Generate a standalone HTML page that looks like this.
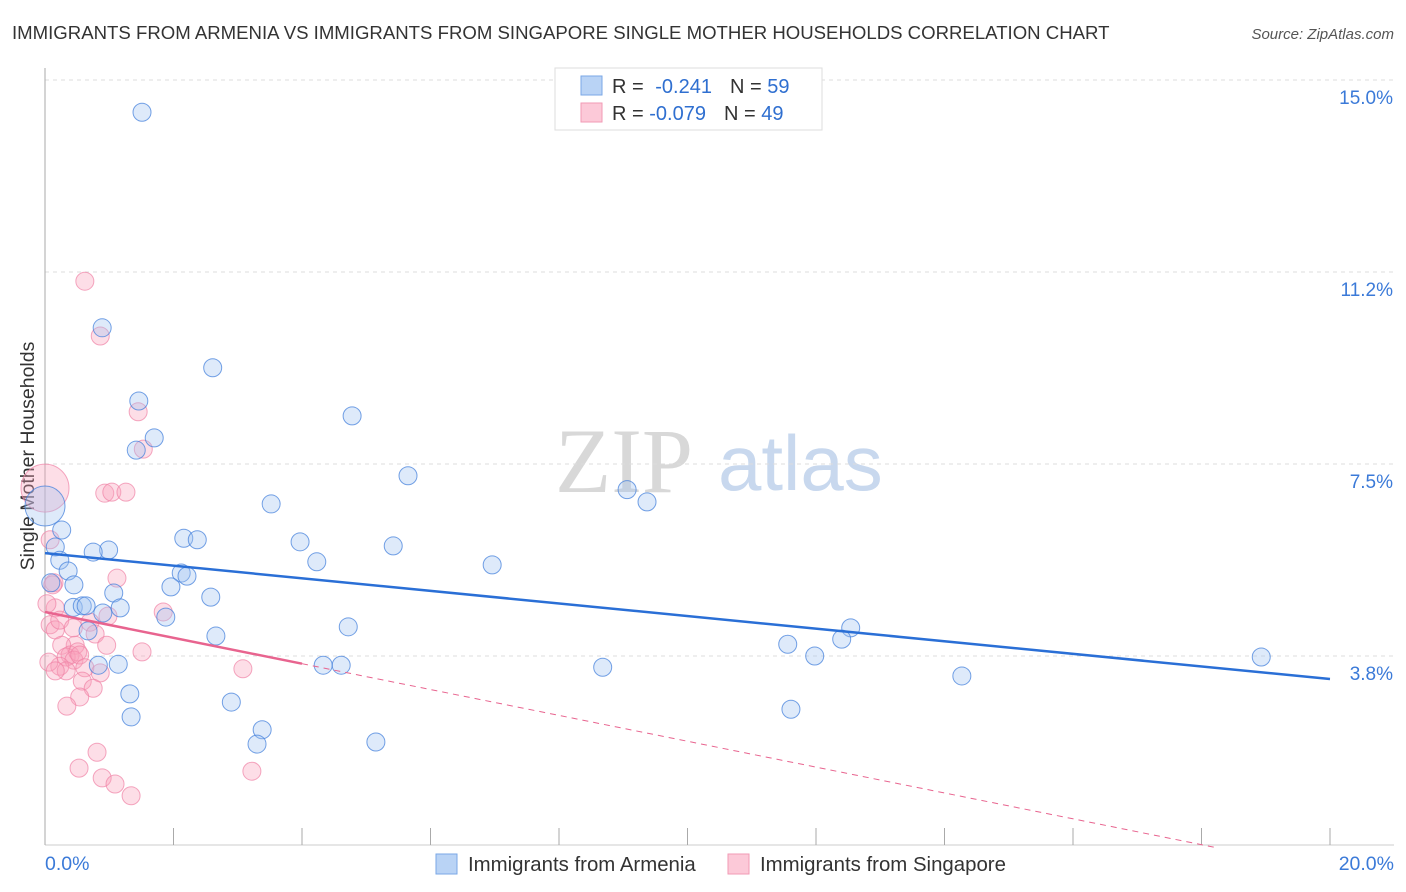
<!DOCTYPE html>
<html><head><meta charset="utf-8"><style>
body{margin:0;background:#fff;font-family:"Liberation Sans",sans-serif;}
#wrap{position:relative;width:1406px;height:892px;overflow:hidden;}
</style></head><body>
<div id="wrap">
<svg id="svg" width="1406" height="892" xmlns="http://www.w3.org/2000/svg">
<text x="12" y="39" font-size="18.6" fill="#333">IMMIGRANTS FROM ARMENIA VS IMMIGRANTS FROM SINGAPORE SINGLE MOTHER HOUSEHOLDS CORRELATION CHART</text>
<text x="1394" y="39" font-size="15" fill="#555" font-style="italic" text-anchor="end">Source: ZipAtlas.com</text>
<text x="34" y="456" font-size="19.5" fill="#333" text-anchor="middle" transform="rotate(-90 34 456)">Single Mother Households</text>
<text x="555" y="492" font-size="92" fill="#d8d8d8" font-family="Liberation Serif,serif">ZIP</text>
<text x="718" y="490" font-size="78" fill="#c8d8ee">atlas</text>
<g id="grid"></g><g id="axes"></g><g id="pts"></g><g id="lines"></g>
<g>
<rect x="555" y="68" width="267" height="62" fill="#fff" stroke="#ddd"/>
<rect x="581" y="76" width="21" height="19" fill="#b9d3f5" stroke="#7aa7e6"/>
<rect x="581" y="103" width="21" height="19" fill="#fcc9d8" stroke="#f29ab5"/>
<text x="612" y="93" font-size="20" fill="#333">R = <tspan fill="#2f6fd0" dx="6">-0.241</tspan><tspan fill="#333" dx="18">N = </tspan><tspan fill="#2f6fd0">59</tspan></text>
<text x="612" y="120" font-size="20" fill="#333">R = <tspan fill="#2f6fd0">-0.079</tspan><tspan fill="#333" dx="18">N = </tspan><tspan fill="#2f6fd0">49</tspan></text>
</g>
<g>
<rect x="436" y="854" width="21" height="20" fill="#b9d3f5" stroke="#7aa7e6"/>
<text x="468" y="871" font-size="20.4" fill="#333">Immigrants from Armenia</text>
<rect x="728" y="854" width="21" height="20" fill="#fcc9d8" stroke="#f29ab5"/>
<text x="760" y="871" font-size="20.4" fill="#333">Immigrants from Singapore</text>
</g>
</svg>
</div>
<script>
const yTicks=[15.0,11.25,7.5,3.75];
const yTickLabels=["15.0%","11.2%","7.5%","3.8%"];
const xTickLabels=["0.0%","20.0%"];
const armeniaX=[1.51,0.89,2.61,1.46,4.78,1.70,1.42,5.65,9.06,9.37,3.52,0,0.26,3.97,2.16,2.37,5.42,0.16,0.99,0.75,4.23,6.96,0.23,0.36,2.12,2.21,0.45,1.96,0.09,1.07,2.58,0.44,0.58,0.64,1.17,0.90,1.88,0.67,4.72,2.66,12.54,12.40,11.56,11.98,18.93,1.14,0.83,4.33,4.61,8.68,14.27,1.32,2.90,3.38,11.61,1.34,3.30,5.15];
const armeniaY=[14.37,10.16,9.38,8.73,8.44,8.01,7.77,7.27,7.00,6.76,6.72,6.68,6.21,5.98,6.05,6.02,5.90,5.88,5.82,5.78,5.59,5.53,5.62,5.41,5.37,5.31,5.14,5.10,5.18,4.98,4.90,4.70,4.73,4.73,4.69,4.59,4.51,4.24,4.32,4.14,4.30,4.08,3.98,3.75,3.73,3.59,3.57,3.57,3.57,3.53,3.36,3.01,2.85,2.31,2.71,2.56,2.03,2.07];
const singX=[0.62,0.86,1.45,1.53,0.93,1.04,1.26,0,0.08,0.14,0.12,1.12,1.84,0.16,0.03,0.98,0.08,0.16,0.23,0.44,0.70,0.78,0.47,0.96,0.26,0.39,0.33,0.51,0.45,0.54,1.51,0.23,0.33,0.62,0.86,3.08,0.58,0.75,0.54,0.34,0.81,0.53,0.89,1.09,1.34,3.22,0.06,0.16];
const singY=[11.07,10.00,8.52,7.79,6.93,6.95,6.95,7.03,6.02,5.18,5.14,5.27,4.61,4.69,4.77,4.53,4.36,4.26,4.45,4.30,4.41,4.18,3.96,3.96,3.96,3.77,3.73,3.83,3.67,3.77,3.83,3.55,3.46,3.52,3.42,3.50,3.26,3.12,2.95,2.77,1.87,1.56,1.37,1.25,1.02,1.50,3.63,3.46];
const armeniaTrend=[5.76,3.30];
const singTrend=[4.61,3.60];
const NS="http://www.w3.org/2000/svg";
const X=v=>45+v*64.25, Y=v=>848-v*51.2;
function mk(tag,attrs,parent){const e=document.createElementNS(NS,tag);for(const k in attrs)e.setAttribute(k,attrs[k]);document.getElementById(parent).appendChild(e);return e;}
yTicks.forEach((t,i)=>{
 const g=mk('line',{x1:45,x2:1394,y1:Y(t),y2:Y(t),stroke:"#ddd","stroke-dasharray":"4,4"},'grid');
 
 
 const tx=mk('text',{x:1393,y:Y(t)+24,"font-size":19,fill:"#3b7ad8","text-anchor":"end"},'axes');
 tx.textContent=yTickLabels[i];
 
 
});
const ax=mk('line',{x1:45,x2:45,y1:68,y2:845,stroke:"#aaa"},'axes');


const bx=mk('line',{x1:45,x2:1394,y1:845,y2:845,stroke:"#ccc"},'axes');


for(let i=0;i<=10;i++){const t=mk('line',{x1:X(i*2),x2:X(i*2),y1:828,y2:845,stroke:"#aaa"},'axes');
 
 }
const xl0=mk('text',{x:45,y:870,"font-size":19.5,fill:"#3b7ad8"},'axes');xl0.textContent=xTickLabels[0];


const xl1=mk('text',{x:1394,y:870,"font-size":19.5,fill:"#3b7ad8","text-anchor":"end"},'axes');xl1.textContent=xTickLabels[1];


singX.forEach((v,i)=>{const r=(i===7)?24:9;const c=mk('circle',{cx:X(v),cy:Y(singY[i]),r:r,fill:"rgba(248,160,185,0.35)",stroke:"rgba(240,130,165,0.7)","stroke-width":1},'pts');
 
 });
armeniaX.forEach((v,i)=>{const r=(i===11)?20:9;const c=mk('circle',{cx:X(v),cy:Y(armeniaY[i]),r:r,fill:"rgba(160,195,240,0.35)",stroke:"rgba(70,130,220,0.75)","stroke-width":1},'pts');
 
 });
const bl=mk('line',{x1:X(0),y1:Y(armeniaTrend[0]),x2:X(20),y2:Y(armeniaTrend[1]),stroke:"#2a6fd6","stroke-width":2.5},'lines');


const slope=(singTrend[1]-singTrend[0])/4;
const pl=mk('line',{x1:X(0),y1:Y(singTrend[0]),x2:X(4),y2:Y(singTrend[1]),stroke:"#e8648f","stroke-width":2.5},'lines');


const xEnd=-singTrend[0]/slope;
const pd=mk('line',{x1:X(4),y1:Y(singTrend[1]),x2:X(xEnd),y2:Y(0),stroke:"#e8648f","stroke-width":1,"stroke-dasharray":"6,5"},'lines');


</script>
</body></html>
